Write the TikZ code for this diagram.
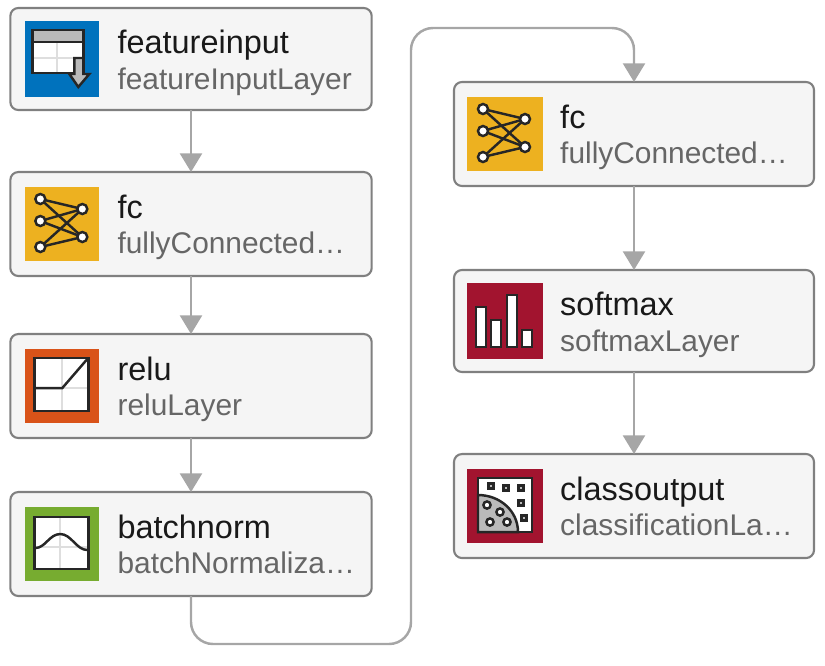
\documentclass[tikz,border=0pt]{standalone}
\usepackage{fontspec}
\setmainfont{Liberation Sans}
\usetikzlibrary{arrows.meta, positioning, calc}
\definecolor{azulcapa}{HTML}{0072BD}
\definecolor{orocapa}{HTML}{EDB120}
\definecolor{rojizocapa}{HTML}{D95319}
\definecolor{verdecapa}{HTML}{77AC30}
\definecolor{vinocapa}{HTML}{A2142F}
\definecolor{trazo}{HTML}{262626}
\tikzset{
  caja/.style={draw=black!50, fill=black!4, line width=1.8pt, rounded corners=0.24cm, minimum width=10.84cm, minimum height=3.12cm, inner sep=0pt, outer sep=0pt},
  icono/.style={minimum size=2.22cm, inner sep=0pt, outer sep=0pt},
  titulo/.style={anchor=base west, inner sep=0pt, text=black!90, font=\fontsize{27.7pt}{30pt}\selectfont},
  subtitulo/.style={anchor=base west, inner sep=0pt, text=black!60, font=\fontsize{25.5pt}{28pt}\selectfont},
  flecha/.style={-{Triangle[length=5.6mm, width=6.6mm]}, line width=2.1pt, color=black!35},
  linea/.style={draw=trazo, line width=2.1pt},
  rejilla/.style={draw=black!13, line width=1.8pt},
  iconotabla/.pic={
    \fill[white] (-30,-29) rectangle (21,14);
    \draw[rejilla] (-5,-17) -- (-5,14) (-30,-1) -- (21,-1);
    \fill[black!27] (-30,-29) rectangle (21,-17);
    \draw[linea] (-30,-17) -- (21,-17);
    \draw[linea] (-30,-29) rectangle (21,14);
    \draw[linea, fill=black!27] (12,-1) -- (21,-1) -- (21,15) -- (27,15) -- (16,28) -- (7,15) -- (12,15) -- cycle;
  },
  iconored/.pic={
    \foreach \a in {(-22,-25),(-22,-3),(-22,23)} \foreach \b in {(20,-15),(20,13)} \draw[linea] \a -- \b;
    \foreach \a in {(-22,-25),(-22,-3),(-22,23),(20,-15),(20,13)} \draw[linea, fill=white] \a circle (5);
  },
  iconorelu/.pic={
    \fill[white] (-28,-28) rectangle (26,25);
    \draw[rejilla] (0,-28) -- (0,25) (-28,2) -- (26,2);
    \draw[linea] (-28,2) -- (0,2) -- (25,-27);
    \draw[linea] (-28,-28) rectangle (26,25);
  },
  iconobatch/.pic={
    \fill[white] (-28,-27) rectangle (26,25);
    \draw[rejilla] (-2,-27) -- (-2,25) (-28,3) -- (26,3);
    \draw[linea] (-27,4) .. controls (-17,4) and (-13,-10) .. (-2,-10) .. controls (9,-10) and (14,6) .. (25,6);
    \draw[linea] (-28,-27) rectangle (26,25);
  },
  iconobarras/.pic={
    \foreach \x/\y in {-29/-14, -14/-1, 2/-26, 17/9} \draw[linea, fill=white] (\x,\y) rectangle ({\x+10},26);
  },
  iconoclases/.pic={
    \fill[white] (-27,-28) rectangle (27,26);
    \draw[linea, fill=black!27] (-27,-11) .. controls (-5,-11) and (13,5) .. (13,26) -- (-27,26) -- cycle;
    \foreach \x/\y in {-18/-1, -5/6, -15/16, 2/16} \draw[linea, fill=white] (\x,\y) circle (3.6);
    \foreach \x/\y in {-14/-20, 1/-18, 16/-18, 16/-3, 19/12} \draw[linea, fill=black!27] ({\x-2.6},{\y-2.6}) rectangle ({\x+2.6},{\y+2.6});
    \draw[linea] (-27,-28) rectangle (27,26);
  },
}
\begin{document}
\begin{tikzpicture}[x=0.03cm, y=-0.03cm]
  \useasboundingbox (0,0) rectangle (825,665);
  % left column
  \node[caja, minimum height=3.06cm] (a) at (191,59) {};
  \node[caja, below=1.86cm of a] (b) {};
  \node[caja, below=1.74cm of b] (c) {};
  \node[caja, below=1.62cm of c] (d) {};
  % right column
  \node[caja, minimum width=10.8cm] (e) at (634,134) {};
  \node[caja, minimum width=10.8cm, minimum height=3.06cm, below=2.52cm of e] (f) {};
  \node[caja, minimum width=10.8cm, below=2.46cm of f] (g) {};
  % icons
  \node[icono, fill=azulcapa, minimum height=2.28cm] (ia) at ($(a.west)+(52,0)$) {};
  \node[icono, fill=orocapa] (ib) at ($(b.west)+(52,0)$) {};
  \node[icono, fill=rojizocapa] (ic) at ($(c.west)+(52,0)$) {};
  \node[icono, fill=verdecapa] (id) at ($(d.west)+(52,0)$) {};
  \node[icono, fill=orocapa, minimum width=2.28cm] (ie) at ($(e.west)+(51,0)$) {};
  \node[icono, fill=vinocapa, minimum size=2.28cm] (if) at ($(f.west)+(51,0)$) {};
  \node[icono, fill=vinocapa, minimum width=2.28cm] (ig) at ($(g.west)+(51,0)$) {};
  \pic at (ia) {iconotabla};
  \pic at (ib) {iconored};
  \pic at (ic) {iconorelu};
  \pic at (id) {iconobatch};
  \pic at (ie) {iconored};
  \pic at (if) {iconobarras};
  \pic at (ig) {iconoclases};
  % labels
  \node[titulo] (ta) at ($(a.north west)+(107,45)$) {featureinput};
  \node[subtitulo] (sa) at ($(a.north west)+(107,81)$) {featureInputLayer};
  \node[titulo] (tb) at ($(b.north west)+(107,46)$) {fc};
  \node[subtitulo] (sb) at ($(b.north west)+(107,81)$) {fullyConnected…};
  \node[titulo] (tc) at ($(c.north west)+(107,46)$) {relu};
  \node[subtitulo] (sc) at ($(c.north west)+(107,81)$) {reluLayer};
  \node[titulo] (td) at ($(d.north west)+(107,46)$) {batchnorm};
  \node[subtitulo] (sd) at ($(d.north west)+(107,81)$) {batchNormaliza…};
  \node[titulo] (te) at ($(e.north west)+(106,46)$) {fc};
  \node[subtitulo] (se) at ($(e.north west)+(106,81)$) {fullyConnected…};
  \node[titulo] (tf) at ($(f.north west)+(106,45)$) {softmax};
  \node[subtitulo] (sf) at ($(f.north west)+(106,81)$) {softmaxLayer};
  \node[titulo] (tg) at ($(g.north west)+(106,46)$) {classoutput};
  \node[subtitulo] (sg) at ($(g.north west)+(106,81)$) {classificationLa…};
  % connectors
  \draw[flecha] (a) -- (b); \draw[flecha] (b) -- (c); \draw[flecha] (c) -- (d);
  \draw[flecha] (e) -- (f); \draw[flecha] (f) -- (g);
  \coordinate (giroa) at (411,644);
  \coordinate (girob) at (411,28);
  \draw[flecha, rounded corners=0.66cm] (d.south) |- (giroa) -- (girob) -| (e.north);
\end{tikzpicture}
\end{document}
